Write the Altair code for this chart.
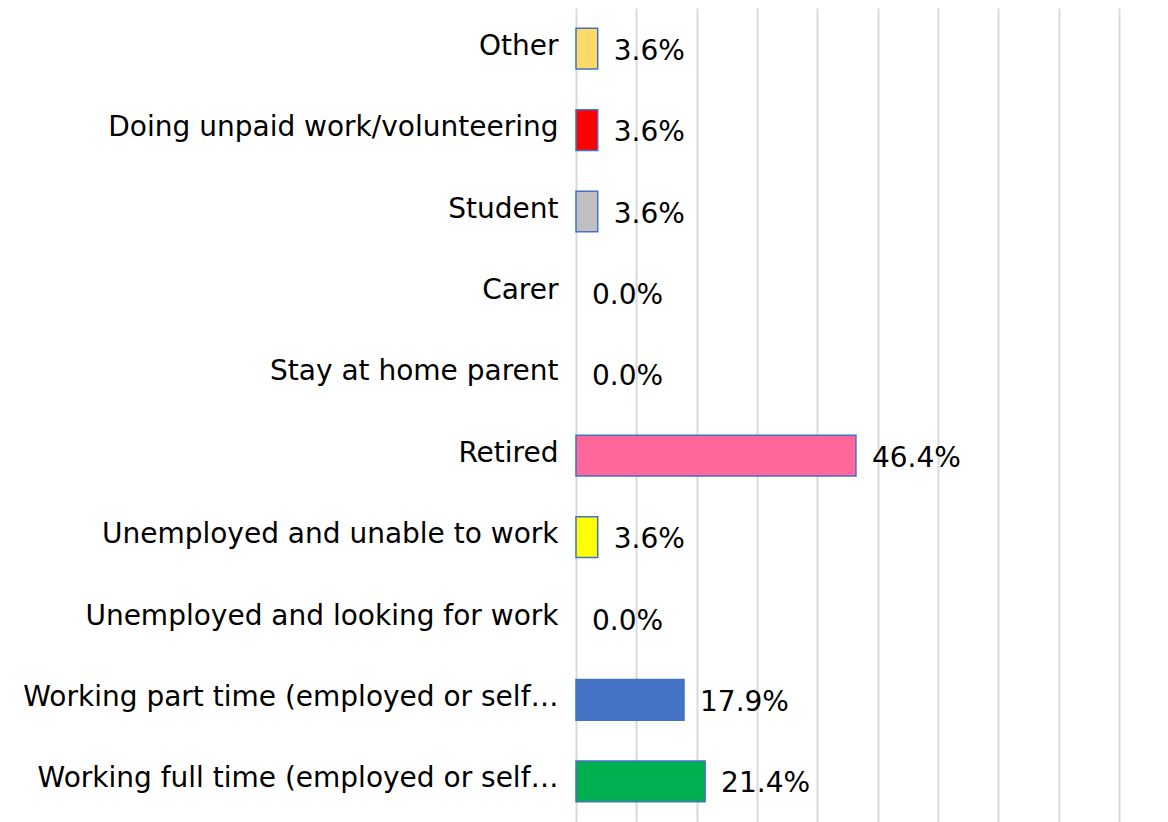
import altair as alt
import pandas as pd

categories = [
    "Other",
    "Doing unpaid work/volunteering",
    "Student",
    "Carer",
    "Stay at home parent",
    "Retired",
    "Unemployed and unable to work",
    "Unemployed and looking for work",
    "Working part time (employed or self…",
    "Working full time (employed or self…",
]
values = [3.6, 3.6, 3.6, 0.0, 0.0, 46.4, 3.6, 0.0, 17.9, 21.4]
colors = ["#FFD966", "#FF0000", "#BFBFBF", "#FFFFFF", "#FFFFFF",
          "#FF6699", "#FFFF00", "#A5A5A5", "#4472C4", "#00B050"]

df = pd.DataFrame({"category": categories, "value": values, "color": colors})

FONT = "DejaVu Sans"

y_enc = alt.Y(
    "category:N",
    sort=categories,
    title=None,
    scale=alt.Scale(paddingInner=0.5, paddingOuter=0.25),
    axis=alt.Axis(
        domain=False, ticks=False, grid=False,
        labelFontSize=28, labelFont=FONT, labelColor="#000000",
        labelPadding=18, labelLimit=0, labelOffset=-2,
    ),
)
x_enc = alt.X(
    "value:Q",
    title=None,
    scale=alt.Scale(domain=[0, 90], nice=False),
    axis=alt.Axis(
        values=[0, 10, 20, 30, 40, 50, 60, 70, 80, 90],
        labels=False, ticks=False, domain=False,
        grid=True, gridColor="#D9D9D9", gridWidth=2,
    ),
)

base = alt.Chart(df).encode(y=y_enc, x=x_enc)

bars = base.transform_filter("datum.value > 0").mark_bar(
    stroke="#4472C4", strokeWidth=1.5
).encode(color=alt.Color("color:N", scale=None, legend=None))

texts = base.transform_calculate(
    label="format(datum.value, '.1f') + '%'"
).mark_text(
    align="left", baseline="middle", dx=16, dy=3,
    fontSize=28, font=FONT, color="#000000"
).encode(text="label:N")

chart = (bars + texts).properties(
    width=543, height=814,
    autosize=alt.AutoSizeParams(type="none"),
    padding={"left": 568, "top": 0, "right": 40, "bottom": 0},
).configure_view(stroke=None)

chart.save("out.html", embed_options={"renderer": "svg", "actions": False})
